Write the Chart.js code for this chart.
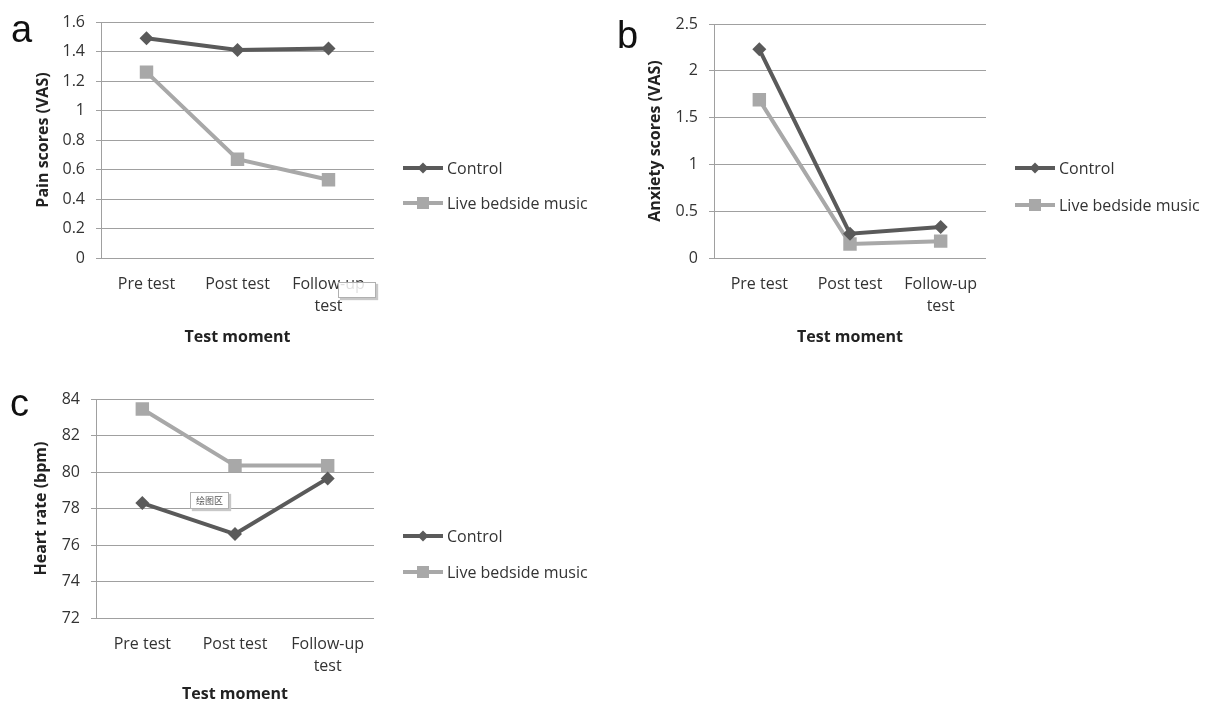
<!DOCTYPE html>
<html><head><meta charset="utf-8">
<script src="https://cdn.jsdelivr.net/npm/chart.js@4.4.1/dist/chart.umd.min.js"></script>
<style>
html,body{margin:0;padding:0;background:#fff}
body{width:1210px;height:704px;position:relative;overflow:hidden;font-family:'Open Sans',sans-serif}
.panel{position:absolute}
.letter{position:absolute;font-family:'Liberation Sans',Arial,sans-serif;font-size:38px;color:#111;line-height:1}
.tip{position:absolute;background:rgba(255,255,255,0.85);border:1px solid #b0b0b0;box-shadow:2px 2px 1px #c8c8c8;font-family:'Noto Sans CJK SC',sans-serif;font-size:9px;color:#555;text-align:center;box-sizing:border-box}
</style></head><body>
<div class="panel" style="left:0;top:0;width:610px;height:350px"><canvas id="ca"></canvas></div>
<div class="panel" style="left:610px;top:0;width:600px;height:350px"><canvas id="cb"></canvas></div>
<div class="panel" style="left:0;top:360px;width:610px;height:344px"><canvas id="cc"></canvas></div>
<div class="letter" style="left:11px;top:10px">a</div>
<div class="letter" style="left:617px;top:16px">b</div>
<div class="letter" style="left:10px;top:384px">c</div>
<div class="tip" style="left:338px;top:282px;width:38px;height:16px"></div>
<div class="tip" style="left:190px;top:492px;width:39px;height:17px;line-height:15px">绘图区</div>
<script>
// ---- data ----
const categories = ['Pre test', 'Post test', ['Follow-up', 'test']];
const seriesNames = ['Control', 'Live bedside music'];
const painControl = [1.49, 1.41, 1.42];
const painMusic = [1.26, 0.67, 0.53];
const anxietyControl = [2.23, 0.26, 0.33];
const anxietyMusic = [1.69, 0.15, 0.18];
const heartControl = [78.3, 76.6, 79.65];
const heartMusic = [83.45, 80.35, 80.35];
const painTicks = [0, 1.6, 0.2];      // min, max, step
const anxietyTicks = [0, 2.5, 0.5];
const heartTicks = [72, 84, 2];
const xTitle = 'Test moment';
const yTitles = ['Pain scores (VAS)', 'Anxiety scores (VAS)', 'Heart rate (bpm)'];

// ---- style ----
const DARK = '#5a5a5a', LIGHT = '#a8a8a8', GRID = '#a0a0a0', TXT = '#333333';
Chart.defaults.font.family = "'Open Sans', sans-serif";
Chart.defaults.color = TXT;

function drawMarker(ctx, style, x, y, r, color) {
  ctx.fillStyle = color;
  ctx.beginPath();
  if (style === 'rectRot') {
    ctx.moveTo(x, y - r); ctx.lineTo(x + r, y); ctx.lineTo(x, y + r); ctx.lineTo(x - r, y);
  } else {
    ctx.rect(x - r, y - r, 2 * r, 2 * r);
  }
  ctx.closePath(); ctx.fill();
}

const sideLegend = {
  id: 'sideLegend',
  afterDraw(chart, args, opts) {
    const ctx = chart.ctx;
    const x0 = chart.chartArea.right + opts.dx;
    chart.data.datasets.forEach((ds, i) => {
      const y = opts.ys[i];
      ctx.save();
      ctx.strokeStyle = ds.borderColor; ctx.lineWidth = 4;
      ctx.beginPath(); ctx.moveTo(x0, y); ctx.lineTo(x0 + 40, y); ctx.stroke();
      drawMarker(ctx, ds.pointStyle, x0 + 20, y, ds.pointStyle === 'rectRot' ? 5.5 : 6, ds.borderColor);
      ctx.fillStyle = TXT; ctx.font = "16px 'Open Sans', sans-serif";
      ctx.textBaseline = 'middle'; ctx.textAlign = 'left';
      ctx.fillText(ds.label, x0 + 44, y + 1);
      ctx.restore();
    });
  }
};

function makeChart(id, ctrl, music, ticks, yTitle, L) {
  return new Chart(document.getElementById(id), {
    type: 'line',
    data: {
      labels: categories,
      datasets: [
        { label: seriesNames[0], data: ctrl, borderColor: DARK, backgroundColor: DARK,
          borderWidth: 4, pointStyle: 'rectRot', pointRadius: 7, pointHoverRadius: 7,
          pointBorderWidth: 0, tension: 0 },
        { label: seriesNames[1], data: music, borderColor: LIGHT, backgroundColor: LIGHT,
          borderWidth: 4, pointStyle: 'rect', pointRadius: 9.5, pointHoverRadius: 9.5,
          pointBorderWidth: 0, tension: 0 }
      ]
    },
    options: {
      responsive: true, maintainAspectRatio: false, animation: false,
      layout: { padding: { left: 30, right: L.right, top: L.top, bottom: 0 } },
      plugins: { legend: { display: false }, tooltip: { enabled: false },
                 sideLegend: { dx: 29, ys: L.legendY } },
      scales: {
        x: {
          offset: true,
          grid: { display: false, drawTicks: false, offset: true },
          border: { display: false },
          ticks: { padding: 15, font: { size: 16, lineHeight: 1.4 }, color: TXT, maxRotation: 0, autoSkip: false },
          title: { display: true, text: xTitle, font: { size: 16, weight: 'bold' }, color: '#222', padding: { top: 0, bottom: L.xTitlePad } },
          afterFit: s => { s.height = L.xh; }
        },
        y: {
          min: ticks[0], max: ticks[1],
          grid: { color: GRID, lineWidth: 1, drawTicks: true, tickLength: 5, tickColor: GRID },
          border: { display: true, color: GRID, width: 1 },
          ticks: { stepSize: ticks[2], padding: 11, font: { size: 16 }, color: TXT,
                   callback: v => String(Number(Number(v).toFixed(2))) },
          title: { display: true, text: yTitle, font: { size: 16, weight: 'bold' }, color: '#222', padding: { top: L.yTitlePad, bottom: 0 } },
          afterFit: s => { s.width = L.yw; }
        }
      }
    },
    plugins: [sideLegend]
  });
}

makeChart('ca', painControl, painMusic, painTicks, yTitles[0],
  { right: 236, top: 22, xh: 92, yw: 71, legendY: [168, 203], xTitlePad: 3, yTitlePad: 4 });
makeChart('cb', anxietyControl, anxietyMusic, anxietyTicks, yTitles[1],
  { right: 224, top: 24, xh: 92, yw: 74, legendY: [168, 205], xTitlePad: 3, yTitlePad: 6 });
makeChart('cc', heartControl, heartMusic, heartTicks, yTitles[2],
  { right: 236, top: 39, xh: 86, yw: 66, legendY: [176, 212], xTitlePad: 0, yTitlePad: 2 });
</script>
</body></html>
